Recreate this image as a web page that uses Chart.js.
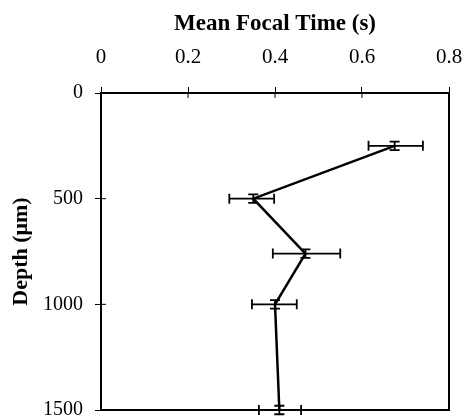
<!DOCTYPE html>
<html>
<head>
<meta charset="utf-8">
<script src="https://cdn.jsdelivr.net/npm/chart.js@4"></script>
<style>
  html, body { margin: 0; padding: 0; background: #fff; }
  #wrap { width: 465px; height: 419px; }
</style>
</head>
<body>
<div id="wrap"><canvas id="chart" width="465" height="419"></canvas></div>
<script>
const depths = [250, 500, 760, 1000, 1500];
const focalTime = [0.675, 0.35, 0.47, 0.40, 0.41];
const timeErrLow = [0.615, 0.295, 0.395, 0.347, 0.363];
const timeErrHigh = [0.74, 0.398, 0.55, 0.45, 0.46];
const depthErr = [20, 20, 20, 20, 20];
const xTicks = [0, 0.2, 0.4, 0.6, 0.8];
const yTicks = [0, 500, 1000, 1500];

const serif = '"Liberation Serif", "DejaVu Serif", serif';

// error bars + box drawn through the chart's own scales
const errorBars = {
    id: 'errorBars',
    afterDatasetsDraw(chart) {
        const ctx = chart.ctx;
        const xs = chart.scales.x, ys = chart.scales.y;
        const a = chart.chartArea;
        ctx.save();
        ctx.strokeStyle = '#000';
        ctx.lineWidth = 2;
        ctx.strokeRect(a.left, a.top, a.right - a.left, a.bottom - a.top);
        // small ticks pointing into the plot
        ctx.lineWidth = 1;
        xTicks.forEach(v => {
            const px = xs.getPixelForValue(v);
            ctx.beginPath(); ctx.moveTo(px, a.top); ctx.lineTo(px, a.top + 5); ctx.stroke();
        });
        yTicks.forEach(v => {
            const py = ys.getPixelForValue(v);
            ctx.beginPath(); ctx.moveTo(a.left, py); ctx.lineTo(a.left + 5, py); ctx.stroke();
        });
        ctx.lineWidth = 1.8;
        depths.forEach((d, i) => {
            const y = ys.getPixelForValue(d);
            const x = xs.getPixelForValue(focalTime[i]);
            const x0 = xs.getPixelForValue(timeErrLow[i]);
            const x1 = xs.getPixelForValue(timeErrHigh[i]);
            const y0 = ys.getPixelForValue(d - depthErr[i]);
            const y1 = ys.getPixelForValue(d + depthErr[i]);
            ctx.beginPath();
            ctx.moveTo(x0, y); ctx.lineTo(x1, y);
            ctx.moveTo(x0, y - 5); ctx.lineTo(x0, y + 5);
            ctx.moveTo(x1, y - 5); ctx.lineTo(x1, y + 5);
            ctx.moveTo(x, y0); ctx.lineTo(x, y1);
            ctx.moveTo(x - 5, y0); ctx.lineTo(x + 5, y0);
            ctx.moveTo(x - 5, y1); ctx.lineTo(x + 5, y1);
            ctx.stroke();
        });
        ctx.restore();
    }
};

new Chart(document.getElementById('chart'), {
    type: 'scatter',
    data: {
        datasets: [{
            label: 'Mean focal time',
            data: depths.map((d, i) => ({ x: focalTime[i], y: d })),
            showLine: true,
            borderColor: '#000',
            borderWidth: 2.5,
            pointRadius: 0,
            clip: false
        }]
    },
    options: {
        responsive: false,
        animation: false,
        layout: { padding: { left: 5, right: 16, top: 5, bottom: 9 } },
        plugins: { legend: { display: false }, tooltip: { enabled: false } },
        scales: {
            x: {
                type: 'linear',
                position: 'top',
                min: 0, max: 0.8,
                afterBuildTicks: s => { s.ticks = xTicks.map(v => ({ value: v })); },
                afterFit: s => { s.height = 88; s.paddingLeft = 0; s.paddingRight = 0; },
                ticks: {
                    color: '#000',
                    font: { family: serif, size: 21 },
                    padding: 17,
                    maxRotation: 0,
                    callback: v => String(v)
                },
                grid: { drawOnChartArea: false, color: '#000', tickLength: 6, lineWidth: 1 },
                border: { display: false },
                title: {
                    display: true,
                    text: 'Mean Focal Time (s)',
                    color: '#000',
                    font: { family: serif, size: 23, weight: 'bold' },
                    padding: { top: 5, bottom: 6 }
                }
            },
            y: {
                type: 'linear',
                reverse: true,
                min: 0, max: 1500,
                afterBuildTicks: s => { s.ticks = yTicks.map(v => ({ value: v })); },
                afterFit: s => { s.width = 96; s.paddingTop = 0; s.paddingBottom = 0; },
                ticks: {
                    color: '#000',
                    font: { family: serif, size: 20 },
                    padding: 12,
                    callback: v => String(v)
                },
                grid: { drawOnChartArea: false, color: '#000', tickLength: 6, lineWidth: 1 },
                border: { display: false },
                title: {
                    display: true,
                    text: 'Depth (μm)',
                    color: '#000',
                    font: { family: serif, size: 22, weight: 'bold' },
                    padding: { top: 3, bottom: 4 }
                }
            }
        }
    },
    plugins: [errorBars]
});
</script>
</body>
</html>
